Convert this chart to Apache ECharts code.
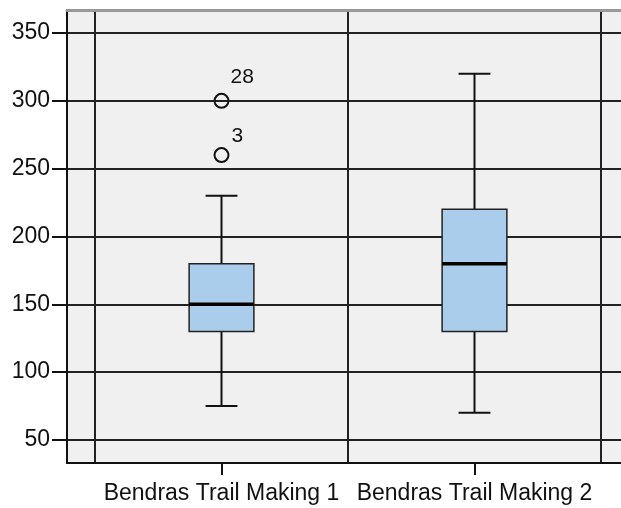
<!DOCTYPE html>
<html>
<head>
<meta charset="utf-8">
<script src="https://cdn.jsdelivr.net/npm/echarts@6/dist/echarts.min.js"></script>
<style>
  html, body { margin: 0; padding: 0; background: #fff; }
  #chart { width: 621px; height: 508px; }
</style>
</head>
<body>
<div id="chart"></div>
<script>
// data
const categories = ['Bendras Trail Making 1', 'Bendras Trail Making 2'];
// [low whisker, Q1, median, Q3, high whisker]
const boxValues = [
    [75, 130, 150, 180, 230],
    [70, 130, 180, 220, 320]
];
// outliers: [category index, value, case label]
const outliers = [
    [0, 300, '28'],
    [0, 260, '3']
];
const yTicks = [50, 100, 150, 200, 250, 300, 350];

const chart = echarts.init(document.getElementById('chart'));
const font = 'Arial, "Liberation Sans", sans-serif';
const yMin = 33, yMax = 367;

// box drawing through the axes, so the caps can be half as wide as the box
const renderBox = (params, api) => {
    const x = api.value(0);
    const band = api.size([1, 0])[0];
    const boxW = band * 0.256;
    const capW = band * 0.126;
    const pLow = api.coord([x, api.value(1)]);
    const pQ1 = api.coord([x, api.value(2)]);
    const pMed = api.coord([x, api.value(3)]);
    const pQ3 = api.coord([x, api.value(4)]);
    const pHigh = api.coord([x, api.value(5)]);
    const cx = pLow[0];
    const black = { stroke: '#111', lineWidth: 2 };
    return {
        type: 'group',
        children: [
            { type: 'line', shape: { x1: cx, y1: pQ3[1], x2: cx, y2: pHigh[1] }, style: black },
            { type: 'line', shape: { x1: cx, y1: pQ1[1], x2: cx, y2: pLow[1] }, style: black },
            { type: 'line', shape: { x1: cx - capW / 2, y1: pHigh[1], x2: cx + capW / 2, y2: pHigh[1] }, style: black },
            { type: 'line', shape: { x1: cx - capW / 2, y1: pLow[1], x2: cx + capW / 2, y2: pLow[1] }, style: black },
            {
                type: 'rect',
                shape: { x: cx - boxW / 2, y: pQ3[1], width: boxW, height: pQ1[1] - pQ3[1] },
                style: { fill: '#abcdec', stroke: '#222', lineWidth: 1.5 }
            },
            { type: 'line', shape: { x1: cx - boxW / 2, y1: pMed[1], x2: cx + boxW / 2, y2: pMed[1] }, style: { stroke: '#000', lineWidth: 3.5 } }
        ]
    };
};

const option = {
    backgroundColor: '#fff',
    animation: false,
    grid: [
        { left: 67, right: -5, top: 10, bottom: 45, show: true, backgroundColor: '#f0f0f0', borderWidth: 0 },
        { left: 95, right: 20, top: 10, bottom: 45 }
    ],
    xAxis: [
        {
            gridIndex: 0, type: 'value', min: 0, max: 1, position: 'bottom',
            axisLine: { show: true, onZero: false, lineStyle: { color: '#111', width: 2 } },
            axisTick: { show: false }, axisLabel: { show: false }, splitLine: { show: false }
        },
        {
            gridIndex: 0, type: 'value', min: 0, max: 1, position: 'top',
            axisLine: { show: true, onZero: false, lineStyle: { color: '#999', width: 3 } },
            axisTick: { show: false }, axisLabel: { show: false }, splitLine: { show: false }
        },
        {
            gridIndex: 1, type: 'category', data: categories, position: 'bottom',
            axisLine: { show: true, onZero: false, lineStyle: { color: '#111', width: 2 } },
            axisTick: { show: true, alignWithLabel: true, length: 12, lineStyle: { color: '#111', width: 2 } },
            axisLabel: { interval: 0, color: '#111', fontFamily: font, fontSize: 23, margin: 19 },
            splitLine: { show: true, lineStyle: { color: '#222', width: 2 } }
        }
    ],
    yAxis: [
        {
            gridIndex: 0, type: 'value', min: yMin, max: yMax,
            axisLine: { show: true, onZero: false, lineStyle: { color: '#111', width: 2 } },
            axisTick: { show: true, inside: false, length: 15, customValues: yTicks, lineStyle: { color: '#111', width: 2 } },
            axisLabel: { color: '#111', fontFamily: font, fontSize: 23, margin: 17, customValues: yTicks },
            splitLine: { show: true, lineStyle: { color: '#222', width: 2 } }
        },
        {
            gridIndex: 1, type: 'value', min: yMin, max: yMax, show: false,
            splitLine: { show: false }
        }
    ],
    series: [
        {
            type: 'custom',
            xAxisIndex: 2, yAxisIndex: 1,
            renderItem: renderBox,
            encode: { x: 0, y: [1, 2, 3, 4, 5] },
            data: boxValues.map((v, i) => [i].concat(v)),
            z: 5
        },
        {
            type: 'scatter',
            xAxisIndex: 2, yAxisIndex: 1,
            symbol: 'circle',
            symbolSize: 14,
            itemStyle: { color: 'rgba(0,0,0,0)', borderColor: '#111', borderWidth: 2, opacity: 1 },
            data: outliers.map((o) => ({
                value: [o[0], o[1]],
                label: {
                    show: true,
                    formatter: o[2],
                    position: o[2] === '28' ? [17, -16] : [18, -11],
                    align: 'left',
                    verticalAlign: 'middle',
                    color: '#111',
                    fontFamily: font,
                    fontSize: 21
                }
            })),
            z: 6
        }
    ]
};

chart.setOption(option);
</script>
</body>
</html>
